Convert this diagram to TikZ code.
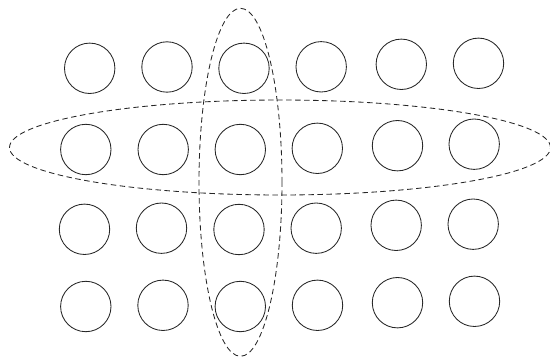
\documentclass[tikz,border=0pt]{standalone}
\usetikzlibrary{shapes.geometric}
\begin{document}
\begin{tikzpicture}[x=1pt,y=-1pt,
  ball/.style={circle,draw=black!85,line width=0.85pt,minimum size=50.4pt,inner sep=0pt,outer sep=0pt},
  group/.style={ellipse,draw=black!85,line width=0.85pt,dash pattern=on 5.5pt off 3.5pt,inner sep=0pt,outer sep=0pt}]
\useasboundingbox (0,0) rectangle (550,358);
% row 1
\node[ball] (c11) at (89.7,68.3) {};
\node[ball] (c12) at (167,67) {};
\node[ball] (c13) at (244,68.3) {};
\node[ball] (c14) at (321.2,66.8) {};
\node[ball] (c15) at (401.3,64.3) {};
\node[ball] (c16) at (478.5,63.3) {};
% row 2
\node[ball] (c21) at (85.8,149.5) {};
\node[ball] (c22) at (163.2,149.5) {};
\node[ball] (c23) at (240.3,149.5) {};
\node[ball] (c24) at (317.3,148.3) {};
\node[ball] (c25) at (397.5,145.7) {};
\node[ball] (c26) at (474.2,144.2) {};
% row 3
\node[ball] (c31) at (84.5,229.3) {};
\node[ball] (c32) at (161.5,228.2) {};
\node[ball] (c33) at (239,229.5) {};
\node[ball] (c34) at (316.2,228.2) {};
\node[ball] (c35) at (396.2,225.3) {};
\node[ball] (c36) at (473.2,224.2) {};
% row 4
\node[ball] (c41) at (85.8,306.5) {};
\node[ball] (c42) at (163,305.3) {};
\node[ball] (c43) at (240.3,306.5) {};
\node[ball] (c44) at (317.5,305.3) {};
\node[ball] (c45) at (397.5,302.7) {};
\node[ball] (c46) at (474.5,301.3) {};
% groups
\node[group,minimum width=541pt,minimum height=95pt] (rowgroup) at (280,147.5) {};
\node[group,minimum width=83pt,minimum height=348pt] (colgroup) at (240.5,182.3) {};
\end{tikzpicture}
\end{document}
